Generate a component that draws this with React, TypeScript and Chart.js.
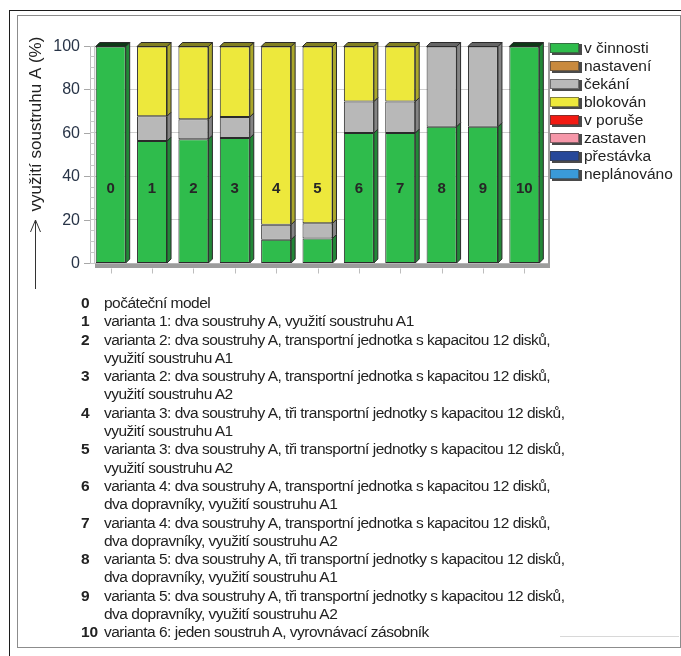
import React, { useEffect, useRef } from "react";
import { Chart, registerables } from "chart.js";
Chart.register(...registerables);

const categories = ["0", "1", "2", "3", "4", "5", "6", "7", "8", "9", "10"];
const vCinnosti = [100, 56.4, 57.3, 57.8, 11, 11.5, 60.1, 60.1, 63, 63, 100];
const nastaveni = [0, 0, 0, 0, 0, 0, 0, 0, 0, 0, 0];
const cekani = [0, 11.5, 9.2, 9.7, 6.9, 7, 14.5, 14.5, 37, 37, 0];
const blokovan = [0, 32.1, 33.5, 32.5, 82.1, 81.5, 25.4, 25.4, 0, 0, 0];
const vPoruse = [0, 0, 0, 0, 0, 0, 0, 0, 0, 0, 0];
const zastaven = [0, 0, 0, 0, 0, 0, 0, 0, 0, 0, 0];
const prestavka = [0, 0, 0, 0, 0, 0, 0, 0, 0, 0, 0];
const neplanovano = [0, 0, 0, 0, 0, 0, 0, 0, 0, 0, 0];

const seriesLabels = ["v činnosti", "nastavení", "čekání", "blokován", "v poruše", "zastaven", "přestávka", "neplánováno"];
const seriesColors = ["#2fbc4c", "#c98a3e", "#b8b8b8", "#ede83c", "#f21a12", "#f697a9", "#27489a", "#3a9ad8"];
const seriesValues = [vCinnosti, nastaveni, cekani, blokovan, vPoruse, zastaven, prestavka, neplanovano];

const yMin = 0;
const yMax = 100;
const yStep = 20;
const yAxisTitle = "využití soustruhu A (%)";
const barLabelLevel = 34.3;

const descNumbers = ["0", "1", "2", "3", "4", "5", "6", "7", "8", "9", "10"];
const descTexts: string[][] = [
  ["počáteční model"],
  ["varianta 1: dva soustruhy A, využití soustruhu A1"],
  ["varianta 2: dva soustruhy A, transportní jednotka s kapacitou 12 disků,", "využití soustruhu A1"],
  ["varianta 2: dva soustruhy A, transportní jednotka s kapacitou 12 disků,", "využití soustruhu A2"],
  ["varianta 3: dva soustruhy A, tři transportní jednotky s kapacitou 12 disků,", "využití soustruhu A1"],
  ["varianta 3: dva soustruhy A, tři transportní jednotky s kapacitou 12 disků,", "využití soustruhu A2"],
  ["varianta 4: dva soustruhy A, transportní jednotka s kapacitou 12 disků,", "dva dopravníky, využití soustruhu A1"],
  ["varianta 4: dva soustruhy A, transportní jednotka s kapacitou 12 disků,", "dva dopravníky, využití soustruhu A2"],
  ["varianta 5: dva soustruhy A, tři transportní jednotky s kapacitou 12 disků,", "dva dopravníky, využití soustruhu A1"],
  ["varianta 5: dva soustruhy A, tři transportní jednotky s kapacitou 12 disků,", "dva dopravníky, využití soustruhu A2"],
  ["varianta 6: jeden soustruh A, vyrovnávací zásobník"],
];

const FONT = '"Liberation Sans", Arial, Helvetica, sans-serif';
const DEPTH = 4;

function shade(hex: string, f: number): string {
  const n = parseInt(hex.slice(1), 16);
  const r = Math.round(((n >> 16) & 255) * f);
  const g = Math.round(((n >> 8) & 255) * f);
  const b = Math.round((n & 255) * f);
  return `rgb(${r},${g},${b})`;
}

const threeDPlugin = {
  id: "threeD",
  beforeDatasetsDraw(chart: any) {
    const { ctx, chartArea } = chart;
    const ys = chart.scales.y;
    const { left, right, top, bottom } = chartArea;
    ctx.save();
    ctx.strokeStyle = "#cfcfcf";
    ctx.lineWidth = 1;
    for (let v = yMin; v <= yMax; v += yStep) {
      const py = Math.round(ys.getPixelForValue(v)) - 0.5;
      ctx.beginPath();
      ctx.moveTo(left + DEPTH, py);
      ctx.lineTo(right + DEPTH, py);
      ctx.stroke();
    }
    ctx.strokeStyle = "#c8c8c8";
    ctx.beginPath();
    ctx.moveTo(left + DEPTH + 0.5, top - 1);
    ctx.lineTo(left + DEPTH + 0.5, bottom);
    ctx.stroke();
    for (let v = yMin; v <= yMax; v += 5) {
      const py = Math.round(ys.getPixelForValue(v)) - 0.5;
      ctx.beginPath();
      ctx.moveTo(left, py);
      ctx.lineTo(left + DEPTH, py);
      ctx.stroke();
    }
    ctx.restore();
  },
  afterDatasetsDraw(chart: any) {
    const { ctx, chartArea } = chart;
    const { left, right, top, bottom } = chartArea;
    const n = categories.length;
    const topIdx: number[] = [];
    for (let i = 0; i < n; i++) {
      let t = -1;
      seriesValues.forEach((arr, d) => {
        if (arr[i] > 0) t = d;
      });
      topIdx.push(t);
    }
    ctx.save();
    ctx.lineWidth = 1;
    ctx.strokeStyle = "#2a2a2a";
    chart.data.datasets.forEach((ds: any, d: number) => {
      const meta = chart.getDatasetMeta(d);
      meta.data.forEach((el: any, i: number) => {
        const p = el.getProps(["x", "y", "base", "width"], true);
        const l = p.x - p.width / 2;
        const r = p.x + p.width / 2;
        const t = Math.min(p.y, p.base);
        const b = Math.max(p.y, p.base);
        if (b - t < 0.5) return;
        const col = seriesColors[d];
        ctx.fillStyle = shade(col, 0.72);
        ctx.beginPath();
        ctx.moveTo(r, t);
        ctx.lineTo(r + DEPTH, t - DEPTH);
        ctx.lineTo(r + DEPTH, b - DEPTH);
        ctx.lineTo(r, b);
        ctx.closePath();
        ctx.fill();
        ctx.stroke();
        if (topIdx[i] === d) {
          ctx.fillStyle = shade(col, d === 0 ? 0.3 : 0.55);
          ctx.beginPath();
          ctx.moveTo(l, t);
          ctx.lineTo(l + DEPTH, t - DEPTH);
          ctx.lineTo(r + DEPTH, t - DEPTH);
          ctx.lineTo(r, t);
          ctx.closePath();
          ctx.fill();
          ctx.stroke();
        }
      });
    });
    ctx.fillStyle = "#9c9c9c";
    ctx.fillRect(left + DEPTH + 1, bottom, right - left, 4.5);
    ctx.fillRect(right + DEPTH - 1, top - DEPTH, 2, bottom - top + DEPTH + 4.5);
    ctx.restore();
  },
  afterDraw(chart: any) {
    const { ctx, chartArea } = chart;
    const xs = chart.scales.x;
    const ys = chart.scales.y;
    const { top, bottom, right } = chartArea;
    ctx.save();
    ctx.strokeStyle = "#bdbdbd";
    ctx.lineWidth = 1;
    categories.forEach((c, i) => {
      const px = Math.round(xs.getPixelForValue(i)) + 0.5;
      ctx.beginPath();
      ctx.moveTo(px, bottom + 5);
      ctx.lineTo(px, bottom + 10);
      ctx.stroke();
    });
    ctx.fillStyle = "#262626";
    ctx.font = `bold 15px ${FONT}`;
    ctx.textAlign = "center";
    ctx.textBaseline = "middle";
    const ly = ys.getPixelForValue(barLabelLevel);
    categories.forEach((c, i) => {
      ctx.fillText(c, xs.getPixelForValue(i), ly);
    });
    ctx.font = `15.5px ${FONT}`;
    ctx.textAlign = "left";
    const bx = right + 5;
    seriesLabels.forEach((lab, k) => {
      const by = top - 3.5 + k * 18;
      ctx.fillStyle = "#4a4a4a";
      ctx.fillRect(bx + 2, by + 1, 30, 11);
      ctx.fillStyle = seriesColors[k];
      ctx.fillRect(bx, by, 29, 10);
      ctx.strokeStyle = "rgba(60,60,60,0.6)";
      ctx.strokeRect(bx + 0.5, by + 0.5, 28, 9);
      ctx.fillStyle = "#222";
      ctx.fillText(lab, bx + 34, by + 6);
    });
    ctx.save();
    ctx.translate(18.5, 108);
    ctx.rotate(-Math.PI / 2);
    ctx.font = `17px ${FONT}`;
    ctx.textAlign = "center";
    ctx.fillStyle = "#222";
    ctx.fillText(yAxisTitle, 0, 0);
    ctx.restore();
    ctx.strokeStyle = "#333";
    ctx.lineWidth = 1;
    ctx.beginPath();
    ctx.moveTo(17.5, 273);
    ctx.lineTo(17.5, 204);
    ctx.moveTo(12.5, 216);
    ctx.lineTo(17.5, 204);
    ctx.lineTo(22.5, 216);
    ctx.stroke();
    ctx.restore();
  },
};

function ChartBox() {
  const ref = useRef<HTMLCanvasElement>(null);
  useEffect(() => {
    if (!ref.current) return;
    const chart = new Chart(ref.current, {
      type: "bar",
      data: {
        labels: categories,
        datasets: seriesLabels.map((lab, k) => ({
          label: lab,
          data: seriesValues[k],
          backgroundColor: seriesColors[k],
          borderColor: "#2a2a2a",
          borderWidth: 1,
          borderSkipped: false,
          categoryPercentage: 1,
          barPercentage: 0.725,
        })),
      },
      options: {
        animation: false,
        responsive: false,
        maintainAspectRatio: false,
        layout: { padding: { left: 0, right: 133, top: 30.5, bottom: 32.5 } },
        plugins: { legend: { display: false }, tooltip: { enabled: false } },
        scales: {
          x: { display: false, stacked: true },
          y: {
            stacked: true,
            min: yMin,
            max: yMax,
            afterFit(scale: any) {
              scale.width = 72;
            },
            ticks: {
              stepSize: yStep,
              padding: 4,
              color: "#283447",
              font: { family: FONT, size: 16 },
            },
            grid: { drawOnChartArea: false, drawTicks: true, tickLength: 6, color: "#a8a8a8" },
            border: { display: true, color: "#bdbdbd" },
          },
        },
      },
      plugins: [threeDPlugin],
    });
    return () => chart.destroy();
  }, []);
  return <canvas ref={ref} width={660} height={280} style={{ position: "absolute", left: 18, top: 16, width: 660, height: 280 }} />;
}

export default function App() {
  return (
    <div style={{ position: "relative", width: 681, height: 656, overflow: "hidden", fontFamily: FONT, background: "#fff" }}>
      <style>{`body{margin:0;overflow:hidden;background:#fff}`}</style>
      <div style={{ position: "absolute", left: 9, top: 10, width: 700, height: 700, borderTop: "1.5px solid #1c1c1c", borderLeft: "1.5px solid #1c1c1c" }} />
      <div style={{ position: "absolute", left: 17, top: 15, width: 662, height: 631, border: "1px solid #8c8c8c" }} />
      <div style={{ position: "absolute", left: 560, top: 636, width: 119, height: 0, borderTop: "1px solid #d8d8d8" }} />
      <ChartBox />
      <div style={{ position: "absolute", left: 81, top: 294, fontSize: 15.5, lineHeight: "18.3px", color: "#222" }}>
        {descNumbers.map((num, i) => (
          <div key={i} style={{ display: "flex" }}>
            <div style={{ width: 23, fontWeight: "bold", flex: "none" }}>{num}</div>
            <div style={{ letterSpacing: "-0.5px" }}>
              {descTexts[i].map((line, j) => (
                <div key={j} style={{ whiteSpace: "nowrap" }}>{line}</div>
              ))}
            </div>
          </div>
        ))}
      </div>
    </div>
  );
}
